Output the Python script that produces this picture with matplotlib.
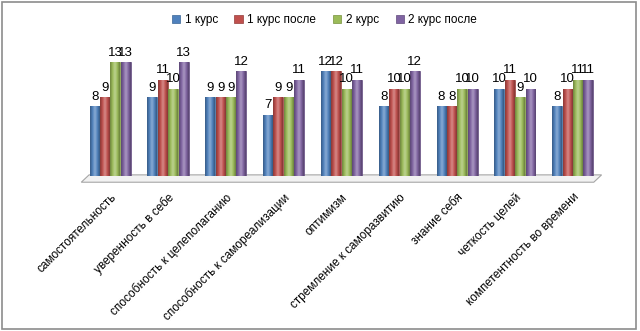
import matplotlib
matplotlib.use("Agg")
import matplotlib.pyplot as plt
import numpy as np
from matplotlib.patches import Rectangle, Polygon
from matplotlib.colors import LinearSegmentedColormap, to_rgb

plt.rcParams["font.family"] = ["Liberation Sans", "DejaVu Sans"]

categories = ["самостоятельность", "уверенность в себе", "способность к целеполаганию",
              "способность к самореализации", "оптимизм", "стремление к саморазвитию",
              "знание себя", "четкость целей", "компетентность во времени"]
series_names = ["1 курс", "1 курс после", "2 курс", "2 курс после"]
kurs1 = [8, 9, 9, 7, 12, 8, 8, 10, 8]
kurs1_posle = [9, 11, 9, 9, 12, 10, 8, 11, 10]
kurs2 = [13, 10, 9, 9, 10, 10, 10, 9, 11]
kurs2_posle = [13, 13, 12, 11, 11, 12, 10, 10, 11]
colors = ["#4F81BD", "#C0504D", "#9BBB59", "#8064A2"]
edges = ["#3A6596", "#943C3A", "#76923C", "#5F497A"]


def cyl_cmap(c):
    # dark edge -> base -> highlight -> base -> dark edge, looks like a cylinder
    r = np.array(to_rgb(c))
    dark = r * 0.7
    light = r + (1 - r) * 0.35
    return LinearSegmentedColormap.from_list("cyl", [dark, r, light, r, dark * 0.95])


grad = np.linspace(0, 1, 64).reshape(1, -1)

fig = plt.figure(figsize=(6.4, 3.31), dpi=100)
ax = fig.add_axes([0.127, 0.468, 0.813, 0.37])

x = np.arange(len(categories))
w = 0.18
for i, (vals, name) in enumerate(zip([kurs1, kurs1_posle, kurs2, kurs2_posle], series_names)):
    pos = x + (i - 1.5) * w
    bars = ax.bar(pos, vals, width=w * 0.95, color=colors[i], edgecolor=edges[i],
                  linewidth=0.5, label=name, zorder=3)
    cm = cyl_cmap(colors[i])
    for b in bars:
        bx, by = b.get_x(), b.get_y()
        im = ax.imshow(grad, extent=[bx, bx + b.get_width(), by, by + b.get_height()],
                       aspect="auto", cmap=cm, zorder=3.5, interpolation="bicubic")
        im.set_clip_path(b)
    for px, v in zip(pos, vals):
        ax.text(px, v + 0.4, str(v), ha="center", va="bottom", fontsize=9.5, zorder=4)

ax.set_xlim(-0.5, 8.5)
ax.set_ylim(0, 14)
for s in ax.spines.values():
    s.set_visible(False)
ax.set_yticks([])
ax.set_xticks(x)
ax.set_xticklabels(categories, rotation=45, ha="right", rotation_mode="anchor", fontsize=8.5)
ax.tick_params(axis="x", length=0, pad=11)

# floor of the 3d chart
floor = Polygon([(0.0, -0.05), (0.985, -0.05), (1.0, 0.01), (0.015, 0.01)],
                closed=True, transform=ax.transAxes, facecolor="#F2F2F2",
                edgecolor="#A6A6A6", linewidth=0.8, zorder=1, clip_on=False)
ax.add_patch(floor)

fig.legend(loc="center", bbox_to_anchor=(0.507, 0.94), ncol=4, frameon=False,
           fontsize=8.5, handlelength=0.7, handleheight=0.7, columnspacing=1.4,
           handletextpad=0.4)

fig.patches.append(Rectangle((0.003, 0.005), 0.99, 0.988, transform=fig.transFigure,
                             fill=False, edgecolor="#8C8C8C", linewidth=1.2))

fig.savefig("out.png", dpi=100)
